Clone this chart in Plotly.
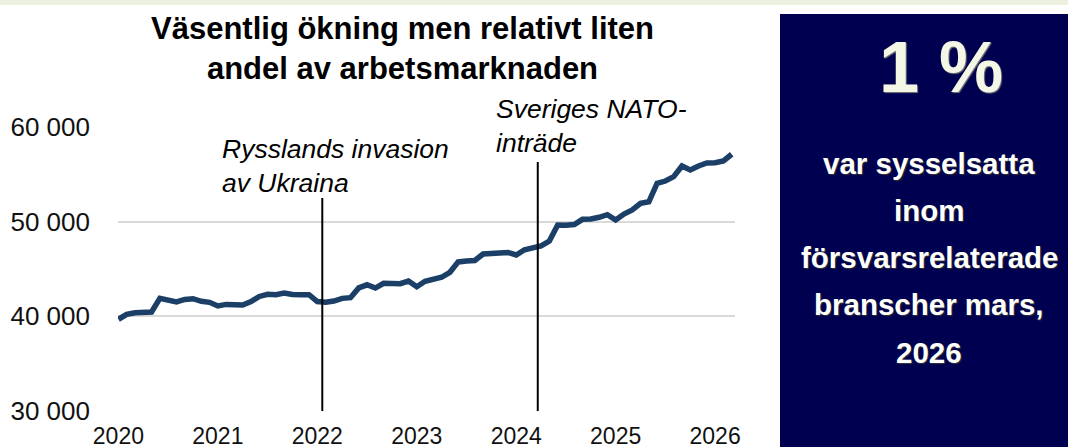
import plotly.graph_objects as go

# ---- data ----
months = list(range(75))  # Jan 2020 .. Mar 2026, monthly index
employed = [
    39690, 40210, 40380, 40350, 40460, 41900, 41650, 41520, 41790, 41860, 41590, 41480,
    41100, 41260, 41230, 41200, 41550, 42100, 42320, 42290, 42460, 42300, 42290, 42290,
    41560, 41480, 41620, 41900, 41970, 43000, 43330, 42990, 43490, 43450, 43450, 43730,
    43130, 43700, 43900, 44130, 44650, 45750, 45840, 45900, 46580, 46580, 46700, 46750,
    46480, 47030, 47270, 47450, 47950, 49650, 49610, 49700, 50250, 50280, 50460, 50740,
    50180, 50810, 51230, 51930, 52100, 54050, 54290, 54750, 55880, 55460, 55880, 56200,
    56230, 56410, 57120,
]
year_ticks = [0, 12, 24, 36, 48, 60, 72]
year_labels = ["2020", "2021", "2022", "2023", "2024", "2025", "2026"]
y_ticks = [30000, 40000, 50000, 60000]
y_labels = ["30 000", "40 000", "50 000", "60 000"]

event_x = [24.6, 50.6]
event_top = [52500, 56300]
event_text = ["Rysslands invasion<br>av Ukraina", "Sveriges NATO-<br>inträde"]

title_text = "Väsentlig ökning men relativt liten<br>andel av arbetsmarknaden"
kpi_value = "1 %"
kpi_lines = ["var sysselsatta", "inom", "försvarsrelaterade", "branscher mars,", "2026"]

# ---- layout geometry (pixels) ----
W, H = 1068, 447
L, R, T, B = 118, 735, 127, 411
pw, ph = R - L, B - T
def px(x):
    return (x - L) / pw
def py(y):
    return (B - y) / ph

FONT = "Liberation Sans, Arial, sans-serif"
LINE_COLOR = "#1b3f67"

fig = go.Figure()
fig.add_trace(go.Scatter(
    x=months, y=employed, mode="lines",
    line=dict(color=LINE_COLOR, width=5.5),
    hoverinfo="skip", showlegend=False,
))

shapes = []
# light green top strip
shapes.append(dict(type="rect", xref="paper", yref="paper",
                   x0=px(-10), x1=px(W + 10), y0=py(5), y1=py(-10),
                   fillcolor="#ebf1de", line=dict(width=0), layer="below"))
# navy KPI box
shapes.append(dict(type="rect", xref="paper", yref="paper",
                   x0=px(780), x1=px(W + 10), y0=py(H + 10), y1=py(14),
                   fillcolor="#000050", line=dict(width=0), layer="below"))
# event lines
for ex, et in zip(event_x, event_top):
    shapes.append(dict(type="line", xref="x", yref="y",
                       x0=ex, x1=ex, y0=30000, y1=et,
                       line=dict(color="black", width=2)))

annotations = []
annotations.append(dict(xref="paper", yref="paper", x=px(402), y=py(49),
                        text=title_text, showarrow=False, xanchor="center", yanchor="middle",
                        font=dict(family=FONT, size=31, color="black", weight="bold")))
# event labels
ev_pos = [(220, 166), (494, 126)]
for (ex, ey), txt in zip(ev_pos, event_text):
    annotations.append(dict(xref="paper", yref="paper", x=px(ex), y=py(ey),
                            text="<i>" + txt + "</i>", showarrow=False,
                            xanchor="left", yanchor="middle", align="left",
                            font=dict(family=FONT, size=26.5, color="black")))
# KPI
annotations.append(dict(xref="paper", yref="paper", x=px(941), y=py(67),
                        text=kpi_value, showarrow=False, xanchor="center", yanchor="middle",
                        font=dict(family=FONT, size=72, color="#f4f7e6", weight="bold",
                                  shadow="1px 1px 1px #7a7a7a")))
for i, line in enumerate(kpi_lines):
    annotations.append(dict(xref="paper", yref="paper", x=px(929), y=py(163 + i * 47.3),
                            text=line, showarrow=False, xanchor="center", yanchor="middle",
                            font=dict(family=FONT, size=29.5, color="white", weight="bold",
                                      shadow="1px 1px 1px #333")))

fig.update_layout(
    width=W, height=H,
    margin=dict(l=L, r=W - R, t=T, b=H - B, pad=0, autoexpand=False),
    paper_bgcolor="white", plot_bgcolor="white",
    shapes=shapes, annotations=annotations,
    showlegend=False,
    xaxis=dict(range=[-0.05, 74.4], tickmode="array", tickvals=year_ticks, ticktext=year_labels,
               showgrid=False, zeroline=False, showline=False, ticks="", automargin=False,
               tickfont=dict(family=FONT, size=23, color="#111"), ticklabelstandoff=9),
    yaxis=dict(range=[30000, 60000], tickmode="array", tickvals=y_ticks, ticktext=y_labels,
               showgrid=True, gridcolor="#d9d9d9", gridwidth=2, zeroline=False, showline=False,
               ticks="", automargin=False,
               tickfont=dict(family=FONT, size=26, color="#111"), ticklabelstandoff=27),
)

fig.write_html("out.html", config={"displayModeBar": False},
               post_script="document.body.style.margin='0';document.body.style.overflow='hidden';")
